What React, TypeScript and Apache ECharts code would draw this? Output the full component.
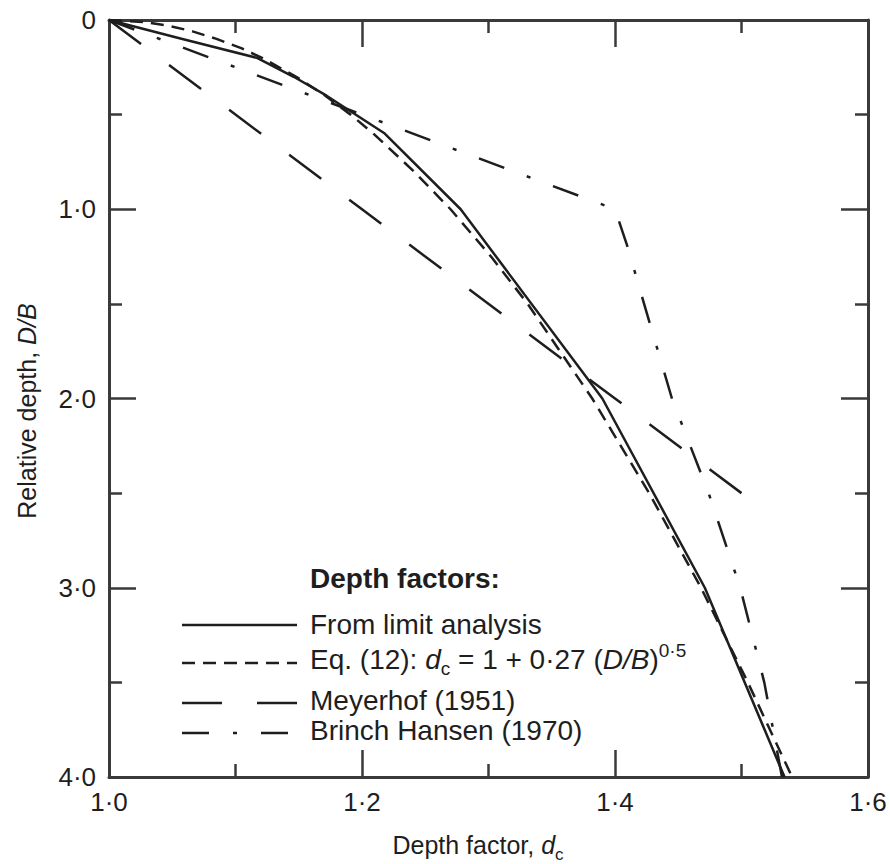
import React, { useEffect, useRef } from "react";
import * as echarts from "echarts";

// ---- data ----
// x: depth factor d_c, y: relative depth D/B
const xTickValues = [1.0, 1.2, 1.4, 1.6];
const yTickValues = [0, 1, 2, 3, 4];

const limitDepth = [0, 0.1, 0.2, 0.3, 0.4, 0.6, 1.0, 2.0, 3.0, 4.0];
const limitDc = [1.0, 1.058, 1.117, 1.146, 1.172, 1.218, 1.278, 1.39, 1.471, 1.534];

const eqDepth = [0, 0.01, 0.03, 0.06, 0.1, 0.15, 0.2, 0.3, 0.4, 0.5, 0.6, 0.8, 1.0, 1.25, 1.5, 2.0, 2.5, 3.0, 3.5, 4.0];
const eqDc = [1.0, 1.027, 1.047, 1.066, 1.085, 1.105, 1.121, 1.148, 1.171, 1.191, 1.209, 1.241, 1.27, 1.302, 1.331, 1.382, 1.427, 1.468, 1.505, 1.54];

const meyerhofDepth = [0, 1.0, 2.0, 2.5];
const meyerhofDc = [1.0, 1.2, 1.4, 1.5];

const hansenDepth = [0, 1.0, 1.2, 1.5, 2.0, 2.5, 3.0, 3.5, 4.0];
const hansenDc = [1.0, 1.4, 1.41, 1.423, 1.445, 1.474, 1.499, 1.518, 1.532];

const seriesNames = ["From limit analysis", "Eq. (12)", "Meyerhof (1951)", "Brinch Hansen (1970)"];
const legendTitle = "Depth factors:";
const xAxisTitle = "Depth factor, {i|d}{sub|c}";
const yAxisTitle = "Relative depth, {i|D/B}";
const eqLabel = "Eq. (12): {i|d}{sub|c} = 1 + 0\u00B727 ({i|D/B}){sup|0\u00B75}";

// ---- styles ----
const FONT = '"Liberation Sans", Arial, Helvetica, sans-serif';
const INK = "#1e1e1e";
const AXIS = "#3a3a3a";
const DASH_EQ = [13, 8];
const DASH_MEY = [40, 35];
const DASH_BH = [27, 24, 4, 24];

function fmt(v: number): string {
  if (Math.abs(v) < 1e-9) return "0";
  return v.toFixed(1).replace(".", "\u00B7");
}

function pairs(dc: number[], depth: number[]) {
  return depth.map((d, i) => [dc[i], d]);
}

const richStyles = (size: number) => ({
  i: { fontStyle: "italic", fontSize: size, fontFamily: FONT, fill: INK, lineHeight: 32 },
  sub: { fontSize: Math.round(size * 0.68), fontFamily: FONT, fill: INK, lineHeight: 14, padding: [18, 0, 0, 0] },
  sup: { fontSize: Math.round(size * 0.68), fontFamily: FONT, fill: INK, lineHeight: 14, padding: [0, 0, 18, 0] },
});

export default function App() {
  const ref = useRef<HTMLDivElement>(null);

  useEffect(() => {
    if (!ref.current) return;
    const chart = echarts.init(ref.current, undefined, { renderer: "svg" });

    const axisCommon = {
      type: "value" as const,
      axisLine: { show: true, onZero: false, lineStyle: { color: AXIS, width: 3 } },
      axisTick: { show: true, inside: true, length: 27, lineStyle: { color: AXIS, width: 2.5 } },
      minorTick: { show: true, splitNumber: 2, length: 13, lineStyle: { color: AXIS, width: 2.5 } },
      splitLine: { show: false },
      minorSplitLine: { show: false },
    };

    const xLabel = {
      formatter: fmt,
      fontSize: 26,
      fontFamily: FONT,
      color: INK,
      margin: 12,
    };
    const yLabel = {
      formatter: fmt,
      fontSize: 26,
      fontFamily: FONT,
      color: INK,
      margin: 13,
    };

    const lineSeries = (name: string, dc: number[], depth: number[], type: any, z: number) => ({
      name,
      type: "line",
      xAxisIndex: 0,
      yAxisIndex: 0,
      data: pairs(dc, depth),
      symbol: "none",
      showSymbol: false,
      silent: true,
      z,
      lineStyle: { color: INK, width: 2.5, type, cap: "butt", join: "round" },
    });

    const legendRows = [
      { y: 625, ty: 624, dash: null as number[] | null, text: seriesNames[0] },
      { y: 663, ty: 659, dash: DASH_EQ, text: eqLabel },
      { y: 703, ty: 700, dash: DASH_MEY, text: seriesNames[2] },
      { y: 733, ty: 730, dash: DASH_BH, text: seriesNames[3] },
    ];

    const graphics: any[] = [
      {
        type: "text",
        x: 310,
        y: 578,
        silent: true,
        style: {
          text: legendTitle,
          fontSize: 28,
          fontWeight: "bold",
          fontFamily: FONT,
          fill: INK,
          verticalAlign: "middle",
        },
      },
    ];
    legendRows.forEach((r) => {
      graphics.push({
        type: "line",
        silent: true,
        shape: { x1: 182, y1: r.y, x2: 297, y2: r.y },
        style: { stroke: INK, lineWidth: 2.5, lineDash: r.dash || undefined },
      });
      graphics.push({
        type: "text",
        x: 310,
        y: r.ty,
        silent: true,
        style: {
          text: r.text,
          fontSize: 28,
          fontFamily: FONT,
          fill: INK,
          verticalAlign: "middle",
          lineHeight: 32,
          rich: richStyles(28),
        },
      });
    });
    graphics.push({
      type: "text",
      x: 478,
      y: 845,
      silent: true,
      style: {
        text: xAxisTitle,
        fontSize: 25,
        fontFamily: FONT,
        fill: INK,
        align: "center",
        verticalAlign: "middle",
        lineHeight: 32,
        rich: richStyles(25),
      },
    });
    graphics.push({
      type: "text",
      x: 27,
      y: 411,
      rotation: Math.PI / 2,
      silent: true,
      style: {
        text: yAxisTitle,
        fontSize: 25,
        fontFamily: FONT,
        fill: INK,
        align: "center",
        verticalAlign: "middle",
        lineHeight: 32,
        rich: richStyles(25),
      },
    });

    chart.setOption({
      animation: false,
      backgroundColor: "#ffffff",
      grid: { left: 109, right: 22, top: 20, bottom: 87, containLabel: false },
      xAxis: [
        {
          ...axisCommon,
          position: "bottom",
          min: xTickValues[0],
          max: xTickValues[xTickValues.length - 1],
          interval: xTickValues[1] - xTickValues[0],
          axisLabel: xLabel,
        },
        {
          ...axisCommon,
          position: "top",
          min: xTickValues[0],
          max: xTickValues[xTickValues.length - 1],
          interval: xTickValues[1] - xTickValues[0],
          axisLabel: { show: false },
        },
      ],
      yAxis: [
        {
          ...axisCommon,
          position: "left",
          inverse: true,
          min: yTickValues[0],
          max: yTickValues[yTickValues.length - 1],
          interval: yTickValues[1] - yTickValues[0],
          axisLabel: yLabel,
        },
        {
          ...axisCommon,
          position: "right",
          inverse: true,
          min: yTickValues[0],
          max: yTickValues[yTickValues.length - 1],
          interval: yTickValues[1] - yTickValues[0],
          axisLabel: { show: false },
        },
      ],
      series: [
        lineSeries(seriesNames[2], meyerhofDc, meyerhofDepth, DASH_MEY, 2),
        lineSeries(seriesNames[3], hansenDc, hansenDepth, DASH_BH, 3),
        lineSeries(seriesNames[1], eqDc, eqDepth, DASH_EQ, 4),
        lineSeries(seriesNames[0], limitDc, limitDepth, "solid", 5),
      ],
      graphic: graphics,
    });

    return () => {
      chart.dispose();
    };
  }, []);

  return (
    <div
      ref={ref}
      style={{ position: "fixed", left: 0, top: 0, width: 890, height: 864, background: "#fff" }}
    />
  );
}
